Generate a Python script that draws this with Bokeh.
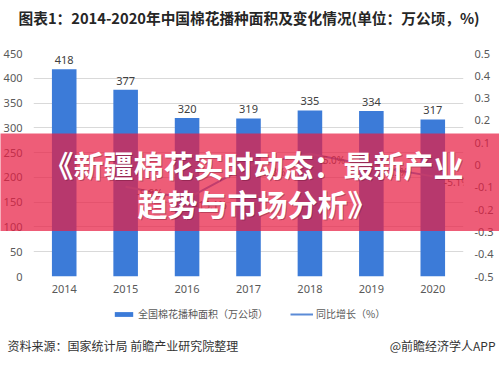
from bokeh.plotting import figure
from bokeh.layouts import column
from bokeh.models import (ColumnDataSource, LinearAxis, Range1d, FactorRange, LabelSet,
                          Label, Legend, LegendItem, FixedTicker, NumeralTickFormatter)
from bokeh.embed import file_html
from bokeh.resources import INLINE
from bokeh.core.properties import value

# ---------------- data ----------------
years = ["2014", "2015", "2016", "2017", "2018", "2019", "2020"]
area = [418, 377, 320, 319, 335, 334, 317]           # 万公顷
growth_years = ["2015", "2016", "2017", "2018", "2019", "2020"]
growth = [-0.098, -0.151, -0.003, 0.050, -0.003, -0.051]

left_ticks = [0, 50, 100, 150, 200, 250, 300, 350, 400, 450]
right_ticks = [-0.5, -0.4, -0.3, -0.2, -0.1, 0.0, 0.1, 0.2, 0.3, 0.4, 0.5]

title_text = "图表1：2014-2020年中国棉花播种面积及变化情况(单位：万公顷，%)"
banner_lines = ["《新疆棉花实时动态：最新产业", "趋势与市场分析》"]
legend_labels = ["全国棉花播种面积（万公顷）", "同比增长（%）"]
source_text = "资料来源：国家统计局 前瞻产业研究院整理"
credit_text = "@前瞻经济学人APP"

# ---------------- layout constants ----------------
W = 499
CJK = "Noto Sans CJK SC"
NUM = "Noto Sans"
BAR_COLOR = "#3C7BD8"
LINE_COLOR = "#5B8BD6"


def blank(height, x_range=None, y_range=None):
    f = figure(width=W, height=height, output_backend="svg", toolbar_location=None,
               x_axis_type=None, y_axis_type=None, min_border=0,
               x_range=x_range if x_range is not None else Range1d(0, 1),
               y_range=y_range if y_range is not None else Range1d(0, 1))
    f.frame_align = False
    f.outline_line_color = None
    f.xgrid.visible = False
    f.ygrid.visible = False
    f.background_fill_alpha = 0
    f.border_fill_alpha = 0
    return f


def lab(fig_h, x, y_top, text, **kw):
    return Label(x=x, y=fig_h - y_top, x_units="screen", y_units="screen",
                 text=text, text_baseline="middle", **kw)


# ---------------- title strip (page y 0..35) ----------------
TH = 35
top = blank(TH)
top.add_layout(lab(TH, 18, 17, title_text, text_font=CJK, text_font_size="14.7px",
                   text_font_style="bold", text_color="#262626"))

# ---------------- main chart (page y 35..300) ----------------
MH = 265
p = figure(x_range=FactorRange(*years), y_range=Range1d(0, 450),
           width=W, height=MH, output_backend="svg", toolbar_location=None,
           min_border_left=33, min_border_right=36,
           min_border_top=18, min_border_bottom=24)
p.frame_align = False
p.outline_line_color = None
p.extra_y_ranges = {"g": Range1d(-0.5, 0.5)}

for ax in [p.xaxis[0], p.yaxis[0]]:
    ax.axis_line_color = None
    ax.major_tick_line_color = None
    ax.minor_tick_line_color = None
    ax.major_tick_out = 0
    ax.major_label_text_font = NUM
    ax.major_label_text_font_size = "11px"
    ax.major_label_text_color = "#595959"
p.xaxis.major_label_standoff = 8
p.yaxis.major_label_standoff = 11
p.yaxis.ticker = FixedTicker(ticks=left_ticks)

rax = LinearAxis(y_range_name="g", ticker=FixedTicker(ticks=right_ticks),
                 formatter=NumeralTickFormatter(format="0.[0]"))
rax.axis_line_color = None
rax.major_tick_line_color = None
rax.minor_tick_line_color = None
rax.major_tick_out = 0
rax.major_label_standoff = 11
rax.major_label_text_font = NUM
rax.major_label_text_font_size = "11px"
rax.major_label_text_color = "#595959"
p.add_layout(rax, "right")

p.xgrid.grid_line_color = None
p.ygrid.ticker = FixedTicker(ticks=left_ticks)
p.ygrid.grid_line_color = "#D9D9D9"
p.ygrid.grid_line_width = 1

src = ColumnDataSource(dict(year=years, area=area, txt=[str(v) for v in area]))
p.vbar(x="year", top="area", width=0.4, source=src,
       fill_color=BAR_COLOR, line_color=None)
p.add_layout(LabelSet(x="year", y="area", text="txt", source=src,
                      text_align="center", text_baseline="bottom", y_offset=5,
                      text_font=value(NUM), text_font_size="11px",
                      text_color="#404040"))

gsrc = ColumnDataSource(dict(year=growth_years, g=growth,
                             txt=[f"{v*100:.1f}%" for v in growth]))
p.line(x="year", y="g", y_range_name="g", source=gsrc,
       line_color=LINE_COLOR, line_width=2)
p.add_layout(LabelSet(x="year", y="g", text="txt", source=gsrc, y_range_name="g",
                      text_align="center", text_baseline="middle",
                      x_offset=24, y_offset=-6,
                      text_font=value(NUM), text_font_size="10px",
                      text_color="#595959"))

# ---------------- pink banner overlay (page y 133..231) ----------------
BH = 98
banner = blank(BH)
banner.background_fill_color = "#E71E44"
banner.background_fill_alpha = 0.72
banner.margin = (-(35 + MH - 133), 0, 35 + MH - 231, 0)
for t, cx, cy in zip(banner_lines, [253, 257], [30, 69]):
    banner.add_layout(lab(BH, cx + 1, cy + 1.5, t, text_font=CJK, text_font_size="30px",
                          text_font_style="bold", text_color="#5a0c25",
                          text_alpha=0.35, text_align="center"))
    banner.add_layout(lab(BH, cx, cy, t, text_font=CJK, text_font_size="30px",
                          text_font_style="bold", text_color="white",
                          text_align="center"))

# ---------------- legend + footer (page y 300..365) ----------------
FH = 65
# legend swatches reuse the real series; their ranges keep the marks off this strip
foot = blank(FH, x_range=FactorRange(*years), y_range=Range1d(10000, 20000))
foot.extra_y_ranges = {"g": Range1d(10, 20)}
r_bar = foot.vbar(x="year", top="area", width=0.4, source=src,
                  fill_color=BAR_COLOR, line_color=None)
r_line = foot.line(x="year", y="g", y_range_name="g", source=gsrc,
                   line_color=LINE_COLOR, line_width=2)
legend = Legend(items=[LegendItem(label=legend_labels[0], renderers=[r_bar]),
                       LegendItem(label=legend_labels[1], renderers=[r_line])],
                orientation="horizontal", location=(112, FH - 21),
                border_line_color=None, background_fill_alpha=0,
                padding=0, margin=0, spacing=22, label_standoff=3,
                glyph_width=23, glyph_height=6, label_height=14,
                label_text_font=CJK, label_text_font_size="10px",
                label_text_color="#595959")
foot.add_layout(legend, "center")
foot.add_layout(lab(FH, 7, 45, source_text, text_font=CJK, text_font_size="12px",
                    text_color="#333333"))
foot.add_layout(lab(FH, 495, 45, credit_text, text_font=CJK, text_font_size="12px",
                    text_color="#333333", text_align="right"))

layout = column(top, p, banner, foot, spacing=0)
open("out.html", "w").write(file_html(layout, INLINE))
